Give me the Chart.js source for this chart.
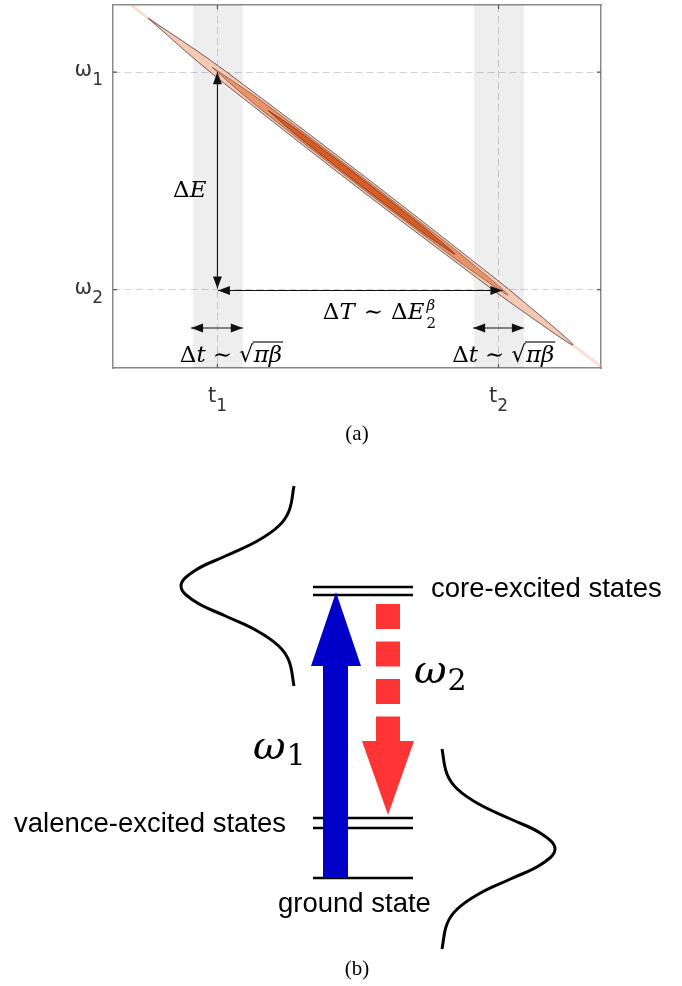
<!DOCTYPE html>
<html>
<head>
<meta charset="utf-8">
<script src="https://cdn.jsdelivr.net/npm/chart.js"></script>
<style>
  body { margin: 0; background: #fff; width: 682px; height: 986px; position: relative; overflow: hidden; }
  canvas { position: absolute; left: 0; }
  #chartA { top: 0; }
  #chartB { top: 460px; }
  .cap { position: absolute; width: 60px; text-align: center; font: 21px "Liberation Serif", serif; color: #000; line-height: 24px; }
</style>
</head>
<body>
<canvas id="chartA" width="682" height="460"></canvas>
<div class="cap" style="left:327px; top:421px">(a)</div>
<canvas id="chartB" width="682" height="526"></canvas>
<div class="cap" style="left:327px; top:956px">(b)</div>
<script>
// ---------- (a) time / frequency map ----------
const timeTicks = [2.14, 7.90];
const timeSymbol = "t";
const timeIndex = ["1", "2"];
const freqTicks = [2.16, 8.15];
const freqSymbol = "ω";
const freqIndex = ["2", "1"];

// grey windows around t1 and t2
const bandLeft = [1.64, 7.40];
const bandRight = [2.66, 8.42];

// contour outlines of the 2D signal (outer -> inner)
const outerX = [0.719, 1.861, 2.965, 5.154, 7.318, 8.389, 9.424, 8.283, 7.178, 4.990, 2.826, 1.754, 0.719];
const outerY = [9.639, 8.606, 7.512, 5.278, 3.011, 1.857, 0.636, 1.669, 2.763, 4.994, 7.264, 8.419, 9.639];
const middleX = [2.029, 2.824, 3.594, 5.117, 6.627, 7.373, 8.094, 7.299, 6.529, 5.006, 3.496, 2.750, 2.029];
const middleY = [8.287, 7.566, 6.802, 5.248, 3.667, 2.861, 2.011, 2.731, 3.496, 5.050, 6.631, 7.437, 8.287];
const innerX = [3.176, 3.680, 4.166, 5.129, 6.084, 6.553, 7.008, 6.504, 6.018, 5.055, 4.100, 3.631, 3.176];
const innerY = [7.099, 6.647, 6.165, 5.182, 4.182, 3.672, 3.135, 3.584, 4.066, 5.050, 6.050, 6.559, 7.099];
const tailX = [0.37, 10.0];
const tailY = [10.0, 0.04];

// double arrows [x1, y1, x2, y2]
const arrowDeltaE = [2.14, 8.15, 2.14, 2.19];
const arrowDeltaT = [2.15, 2.135, 7.98, 2.135];
const arrowWin1 = [1.60, 1.10, 2.66, 1.10];
const arrowWin2 = [7.38, 1.10, 8.42, 1.10];

// ---------- (b) level scheme ----------
const levelNames = ["core-excited states", "valence-excited states", "ground state"];
const coreLevels = [399, 391];
const valenceLevels = [168, 158];
const groundLevels = [108];
const levelStart = 313, levelEnd = 413;

const pumpX = [323, 348, 348, 361, 336, 311, 323];
const pumpY = [108, 108, 320, 320, 394, 320, 320];
const probeShaftX = [388, 388];
const probeShaftY = [382, 245];
const probeHeadX = [362, 414, 388];
const probeHeadY = [245, 245, 171];

const leftPulseX = [294, 289, 278.7, 257.3, 225.5, 194.3, 181, 194.3, 225.5, 257.3, 278.7, 289, 294];
const leftPulseY = [500, 475, 460, 445, 430, 415, 400, 385, 370, 355, 340, 325, 300];
const rightPulseX = [442, 447, 457.3, 478.7, 510.5, 541.7, 555, 541.7, 510.5, 478.7, 457.3, 447, 442];
const rightPulseY = [237, 212, 197, 182, 167, 152, 137, 122, 107, 92, 77, 62, 37];

function pts(xs, ys) {
  return xs.map((x, i) => ({ x: x, y: ys[i] }));
}

function arrowSet(a) {
  return {
    data: [{ x: a[0], y: a[1] }, { x: a[2], y: a[3] }],
    showLine: true, borderColor: "#111", borderWidth: 1.1, pointRadius: 0, arrow: true, order: 1
  };
}

function drawHead(ctx, from, to) {
  const ang = Math.atan2(to.y - from.y, to.x - from.x);
  ctx.save();
  ctx.translate(to.x, to.y);
  ctx.rotate(ang);
  ctx.beginPath();
  ctx.moveTo(0, 0);
  ctx.lineTo(-12, -4.5);
  ctx.lineTo(-12, 4.5);
  ctx.closePath();
  ctx.fill();
  ctx.restore();
}

const arrowHeads = {
  id: "arrowHeads",
  afterDatasetsDraw(chart) {
    const ctx = chart.ctx;
    ctx.fillStyle = "#111";
    chart.data.datasets.forEach((ds, i) => {
      if (!ds.arrow) return;
      const p = chart.getDatasetMeta(i).data;
      drawHead(ctx, p[p.length - 1], p[0]);
      drawHead(ctx, p[0], p[p.length - 1]);
    });
  }
};

// symbol with a subscript, e.g. omega_1, drawn at a tick of the scale
function drawSub(ctx, sym, sub, x, y, alignRight) {
  ctx.font = "21px 'DejaVu Sans'";
  const w1 = ctx.measureText(sym).width;
  ctx.font = "17px 'DejaVu Sans'";
  const w2 = ctx.measureText(sub).width;
  const x0 = alignRight ? x - w1 - w2 : x - (w1 + w2) / 2;
  ctx.font = "21px 'DejaVu Sans'";
  ctx.fillText(sym, x0, y);
  ctx.font = "17px 'DejaVu Sans'";
  ctx.fillText(sub, x0 + w1, y + 9);
}

const tickText = {
  id: "tickText",
  afterDraw(chart) {
    const ctx = chart.ctx, sx = chart.scales.x, sy = chart.scales.y;
    const area = chart.chartArea;
    ctx.save();
    ctx.fillStyle = "#333";
    ctx.textBaseline = "alphabetic";
    ctx.textAlign = "left";
    freqTicks.forEach((v, i) => drawSub(ctx, freqSymbol, freqIndex[i], sx.left - 10, sy.getPixelForValue(v) + 4, true));
    timeTicks.forEach((v, i) => drawSub(ctx, timeSymbol, timeIndex[i], sx.getPixelForValue(v), sy.bottom + 34, false));
    // short inward tick marks on the frame
    ctx.strokeStyle = "#555";
    ctx.lineWidth = 1.2;
    ctx.beginPath();
    freqTicks.forEach(v => {
      const py = sy.getPixelForValue(v);
      ctx.moveTo(area.left, py); ctx.lineTo(area.left + 4, py);
      ctx.moveTo(area.right, py); ctx.lineTo(area.right - 4, py);
    });
    timeTicks.forEach(v => {
      const px = sx.getPixelForValue(v);
      ctx.moveTo(px, area.bottom); ctx.lineTo(px, area.bottom - 4);
      ctx.moveTo(px, area.top); ctx.lineTo(px, area.top + 4);
    });
    ctx.stroke();
    ctx.restore();
  }
};

function textLayer(id, items) {
  return {
    id: id,
    afterDatasetsDraw(chart) {
      const ctx = chart.ctx, sx = chart.scales.x, sy = chart.scales.y;
      ctx.save();
      ctx.fillStyle = "#000";
      ctx.strokeStyle = "#000";
      ctx.textBaseline = "alphabetic";
      ctx.textAlign = "left";
      items.forEach(item => {
        let px = sx.getPixelForValue(item.x);
        const base = sy.getPixelForValue(item.y);
        item.runs.forEach(r => {
          const size = r.size || item.size;
          ctx.font = (r.italic ? "italic " : "") + size + "px " + item.font;
          const w = ctx.measureText(r.text).width;
          const x0 = px + (r.gap || 0);
          ctx.fillText(r.text, x0, base + (r.dy || 0));
          if (r.over) {
            ctx.lineWidth = 1.1;
            ctx.beginPath();
            ctx.moveTo(x0 - 1, base - r.over);
            ctx.lineTo(x0 + w + 1, base - r.over);
            ctx.stroke();
          }
          if (!r.stack) px = x0 + w;
        });
      });
      ctx.restore();
    }
  };
}

const sqrtRuns = [
  { text: "Δ" }, { text: "t", italic: true },
  { text: "∼", gap: 7 }, { text: "√", gap: 7 },
  { text: "πβ", italic: true, over: 20 }
];

const labelsA = [
  { x: 1.23, y: 4.71, size: 23, font: "'DejaVu Serif', serif", runs: [{ text: "Δ" }, { text: "E", italic: true }] },
  { x: 4.30, y: 1.35, size: 23, font: "'DejaVu Serif', serif", runs: [
    { text: "Δ" }, { text: "T", italic: true }, { text: "∼", gap: 9 }, { text: "Δ", gap: 8 }, { text: "E", italic: true },
    { text: "β", italic: true, size: 15, dy: -9, gap: 2, stack: true }, { text: "2", size: 15, dy: 9, gap: 2 }
  ] },
  { x: 1.37, y: 0.165, size: 23, font: "'DejaVu Serif', serif", runs: sqrtRuns },
  { x: 6.95, y: 0.165, size: 23, font: "'DejaVu Serif', serif", runs: sqrtRuns }
];

const frame = { color: "#8a8a8a", width: 1.5 };

new Chart(document.getElementById("chartA"), {
  type: "scatter",
  data: {
    datasets: [
      ...bandLeft.map((l, i) => ({
        data: [{ x: l, y: 0 }, { x: l, y: 10 }, { x: bandRight[i], y: 10 }, { x: bandRight[i], y: 0 }],
        showLine: true, fill: "shape", backgroundColor: "rgba(0,0,0,0.065)", borderWidth: 0, pointRadius: 0, order: 20
      })),
      { data: pts(tailX, tailY), showLine: true, borderColor: "rgba(245,150,110,0.3)", borderWidth: 3, pointRadius: 0, order: 15 },
      { data: pts(outerX, outerY), showLine: true, fill: "shape", backgroundColor: "#f4c8b2", borderColor: "#5e4f4a", borderWidth: 0.9, tension: 0.4, pointRadius: 0, order: 12 },
      { data: pts(middleX, middleY), showLine: true, fill: "shape", backgroundColor: "#ea9268", borderColor: "#6a5048", borderWidth: 0.7, tension: 0.4, pointRadius: 0, order: 11 },
      { data: pts(innerX, innerY), showLine: true, fill: "shape", backgroundColor: "#db5a22", borderColor: "#5a3528", borderWidth: 0.7, tension: 0.4, pointRadius: 0, order: 10 },
      arrowSet(arrowDeltaE), arrowSet(arrowDeltaT), arrowSet(arrowWin1), arrowSet(arrowWin2)
    ]
  },
  options: {
    responsive: false,
    animation: false,
    devicePixelRatio: 1,
    events: [],
    layout: { padding: 0 },
    plugins: { legend: { display: false }, tooltip: { enabled: false } },
    scales: {
      x: {
        type: "linear", position: "bottom", min: 0, max: 10,
        afterBuildTicks: s => { s.ticks = timeTicks.map(v => ({ value: v })); },
        afterFit: s => { s.height = 92; s.paddingLeft = 0; s.paddingRight = 0; },
        ticks: { display: false },
        grid: { color: "#d2d2d2", lineWidth: 1, drawTicks: false },
        border: { color: frame.color, width: frame.width, dash: [7, 4] }
      },
      y: {
        type: "linear", position: "left", min: 0, max: 10,
        afterBuildTicks: s => { s.ticks = freqTicks.map(v => ({ value: v })); },
        afterFit: s => { s.width = 113; s.paddingTop = 0; s.paddingBottom = 0; },
        ticks: { display: false },
        grid: { color: "#d2d2d2", lineWidth: 1, drawTicks: false },
        border: { color: frame.color, width: frame.width, dash: [7, 4] }
      },
      x2: {
        type: "linear", position: "top", min: 0, max: 10,
        afterFit: s => { s.height = 5; s.paddingLeft = 0; s.paddingRight = 0; },
        ticks: { display: false }, grid: { display: false, drawTicks: false },
        border: { color: frame.color, width: frame.width }
      },
      y2: {
        type: "linear", position: "right", min: 0, max: 10,
        afterFit: s => { s.width = 81; s.paddingTop = 0; s.paddingBottom = 0; },
        ticks: { display: false }, grid: { display: false, drawTicks: false },
        border: { color: frame.color, width: frame.width }
      }
    }
  },
  plugins: [arrowHeads, tickText, textLayer("textsA", labelsA)]
});

// ---------- (b) ----------
function levelSet(e) {
  return {
    data: [{ x: levelStart, y: e }, { x: levelEnd, y: e }],
    showLine: true, borderColor: "#000", borderWidth: 2.6, pointRadius: 0, order: 10
  };
}

const labelsB = [
  { x: 431, y: 389, size: 27.5, font: "'Liberation Sans', Arial, sans-serif", runs: [{ text: levelNames[0] }] },
  { x: 14, y: 154, size: 27.5, font: "'Liberation Sans', Arial, sans-serif", runs: [{ text: levelNames[1] }] },
  { x: 278, y: 74, size: 27.5, font: "'Liberation Sans', Arial, sans-serif", runs: [{ text: levelNames[2] }] },
  { x: 253, y: 227, size: 40, font: "'DejaVu Serif', serif", runs: [{ text: "ω", italic: true }, { text: "1", size: 30, dy: 6, gap: 1 }] },
  { x: 414, y: 303, size: 40, font: "'DejaVu Serif', serif", runs: [{ text: "ω", italic: true }, { text: "2", size: 30, dy: 7, gap: 1 }] }
];

new Chart(document.getElementById("chartB"), {
  type: "scatter",
  data: {
    datasets: [
      ...coreLevels.map(levelSet),
      ...valenceLevels.map(levelSet),
      ...groundLevels.map(levelSet),
      { data: pts(pumpX, pumpY), showLine: true, fill: "shape", backgroundColor: "#0000c8", borderWidth: 0, pointRadius: 0, order: 2 },
      { data: pts(probeShaftX, probeShaftY), showLine: true, borderColor: "#ff3535", borderWidth: 24, borderDash: [25, 12.5], borderCapStyle: "butt", pointRadius: 0, order: 3 },
      { data: pts(probeHeadX, probeHeadY), showLine: true, fill: "shape", backgroundColor: "#ff3535", borderWidth: 0, pointRadius: 0, order: 3 },
      { data: pts(leftPulseX, leftPulseY), showLine: true, borderColor: "#000", borderWidth: 3, tension: 0.4, pointRadius: 0, order: 5 },
      { data: pts(rightPulseX, rightPulseY), showLine: true, borderColor: "#000", borderWidth: 3, tension: 0.4, pointRadius: 0, order: 5 }
    ]
  },
  options: {
    responsive: false,
    animation: false,
    devicePixelRatio: 1,
    events: [],
    layout: { padding: 0 },
    plugins: { legend: { display: false }, tooltip: { enabled: false } },
    scales: {
      x: { type: "linear", min: 0, max: 682, display: false },
      y: { type: "linear", min: 0, max: 526, display: false }
    }
  },
  plugins: [textLayer("textsB", labelsB)]
});
</script>
</body>
</html>
